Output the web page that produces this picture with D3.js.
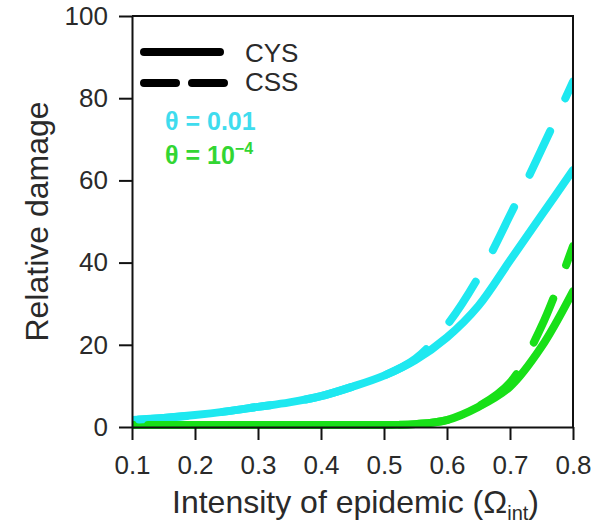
<!DOCTYPE html>
<html>
<head>
<meta charset="utf-8">
<script src="https://cdn.jsdelivr.net/npm/d3@7"></script>
<style>
    body { margin: 0; background: #fff; }
    svg { display: block; font-family: "Liberation Sans", Arial, sans-serif; }
</style>
</head>
<body>
<svg id="chart" width="604" height="526"></svg>
<script>
// intensity of epidemic (x) and relative damage for each strategy / theta
var intensity = [0.1, 0.15, 0.2, 0.25, 0.3, 0.35, 0.4, 0.45, 0.5, 0.55, 0.6, 0.65, 0.7, 0.75, 0.8];
var cysHigh = [1.7, 2.2, 2.9, 3.8, 4.9, 6.0, 7.5, 9.8, 12.5, 16.3, 21.8, 29.5, 40.5, 51.5, 62.5];
var cssHigh = [1.7, 2.2, 2.9, 3.8, 4.9, 6.0, 7.5, 9.8, 12.5, 16.6, 24.8, 36.5, 51.5, 67.5, 84];
var cysLow = [0.5, 0.5, 0.5, 0.5, 0.5, 0.5, 0.5, 0.5, 0.5, 0.7, 1.7, 4.9, 9.8, 19.5, 33];
var cssLow = [0.5, 0.5, 0.5, 0.5, 0.5, 0.5, 0.5, 0.5, 0.5, 0.7, 1.7, 5.0, 10.8, 24.5, 44];
var xTicks = [0.1, 0.2, 0.3, 0.4, 0.5, 0.6, 0.7, 0.8];
var yTicks = [0, 20, 40, 60, 80, 100];

var CYAN = "#1ee8f0";
var GREEN = "#18e018";

var svg = d3.select("#chart");
var plotLeft = 132, plotRight = 573, plotTop = 16, plotBottom = 427;

var x = d3.scaleLinear().domain([0.1, 0.8]).range([plotLeft, plotRight]);
var y = d3.scaleLinear().domain([0, 100]).range([plotBottom, plotTop]);

// curves go first so the axes sit on top of them
var line = d3.line()
    .x(function(d){ return x(d[0]); })
    .y(function(d){ return y(d[1]); })
    .curve(d3.curveCatmullRom.alpha(0.5));

svg.append("clipPath").attr("id", "plotclip")
    .append("rect")
    .attr("x", plotLeft).attr("y", plotTop)
    .attr("width", plotRight - plotLeft).attr("height", plotBottom - plotTop + 6);

// dashed curves: "anchor" is the intensity where a visible dash begins
var DASH = 48, GAP = 36;
var curves = [
    {vals: cysHigh, color: CYAN, dashed: false},
    {vals: cysLow, color: GREEN, dashed: false},
    {vals: cssHigh, color: CYAN, dashed: true, anchor: 0.6},
    {vals: cssLow, color: GREEN, dashed: true, anchor: 0.735}
];

svg.append("g")
    .attr("clip-path", "url(#plotclip)")
    .selectAll("path")
    .data(curves)
    .enter()
    .append("path")
    .attr("d", function(d){
        return line(intensity.map(function(v, i){ return [v, d.vals[i]]; }));
    })
    .style("fill", "none")
    .style("stroke", function(d){ return d.color; })
    .style("stroke-width", 8)
    .style("stroke-linecap", "round")
    .each(function(d){
        if (!d.dashed) return;
        // find the path length at the anchor x, so the dash phase lines up
        var node = this, total = node.getTotalLength();
        var target = x(d.anchor), lo = 0, hi = total;
        for (var k = 0; k < 40; k++) {
            var mid = (lo + hi) / 2;
            if (node.getPointAtLength(mid).x < target) lo = mid; else hi = mid;
        }
        var s = lo + 4, period = DASH + GAP;
        d3.select(node)
            .style("stroke-dasharray", DASH + "," + GAP)
            .style("stroke-dashoffset", (period - (s % period)) % period);
    });

// axes
var yAxis = svg.append("g")
    .attr("transform", "translate(" + plotLeft + ",0)")
    .call(d3.axisLeft(y).tickValues(yTicks).tickSize(13).tickPadding(11).tickSizeOuter(0));

var xAxis = svg.append("g")
    .attr("transform", "translate(0," + plotBottom + ")")
    .call(d3.axisBottom(x).tickValues(xTicks).tickFormat(d3.format(".1f")).tickSize(13).tickPadding(16).tickSizeOuter(0));

[xAxis, yAxis].forEach(function(ax){
    ax.select(".domain").style("stroke", "#111").style("stroke-width", 2);
    ax.selectAll(".tick line").style("stroke", "#111").style("stroke-width", 2);
    ax.selectAll(".tick text")
        .style("font-size", "26px")
        .style("font-family", "'Liberation Sans', Arial, sans-serif")
        .style("fill", "#2a2a2a");
});

// top and right frame
svg.append("path")
    .attr("d", "M" + plotLeft + "," + plotTop + "H" + plotRight + "V" + plotBottom)
    .style("fill", "none")
    .style("stroke", "#111")
    .style("stroke-width", 2);

// axis titles
svg.append("text")
    .attr("transform", "translate(48," + ((plotTop + plotBottom) / 2) + ") rotate(-90)")
    .style("text-anchor", "middle")
    .style("font-size", "32px")
    .style("fill", "#2a2a2a")
    .text("Relative damage");

var xTitle = svg.append("text")
    .attr("x", (plotLeft + plotRight) / 2 + 3)
    .attr("y", 513)
    .style("text-anchor", "middle")
    .style("font-size", "32px")
    .style("fill", "#2a2a2a");
xTitle.append("tspan").text("Intensity of epidemic (Ω");
xTitle.append("tspan").attr("dy", 7).style("font-size", "20px").text("int");
xTitle.append("tspan").attr("dy", -7).text(")");

// legend: line styles
var legend = svg.append("g");
legend.append("line")
    .attr("x1", 144).attr("x2", 220).attr("y1", 52).attr("y2", 52)
    .style("stroke", "#000").style("stroke-width", 8).style("stroke-linecap", "round");
legend.append("line")
    .attr("x1", 144).attr("x2", 224).attr("y1", 83).attr("y2", 83)
    .style("stroke", "#000").style("stroke-width", 8).style("stroke-linecap", "round")
    .style("stroke-dasharray", "32,16");
legend.selectAll("text.lbl")
    .data([["CYS", 62], ["CSS", 91]])
    .enter()
    .append("text")
    .attr("class", "lbl")
    .attr("x", 245)
    .attr("y", function(d){ return d[1]; })
    .style("font-size", "26px")
    .style("fill", "#2a2a2a")
    .text(function(d){ return d[0]; });

// legend: theta colours
legend.append("text")
    .attr("x", 165).attr("y", 130)
    .style("font-size", "25px").style("font-weight", "bold")
    .style("fill", "#3fdcee")
    .text("θ = 0.01");

var low = legend.append("text")
    .attr("x", 165).attr("y", 164)
    .style("font-size", "25px").style("font-weight", "bold")
    .style("fill", "#33d633");
low.append("tspan").text("θ = 10");
low.append("tspan").attr("dy", -10).style("font-size", "16px").text("−4");
</script>
</body>
</html>
